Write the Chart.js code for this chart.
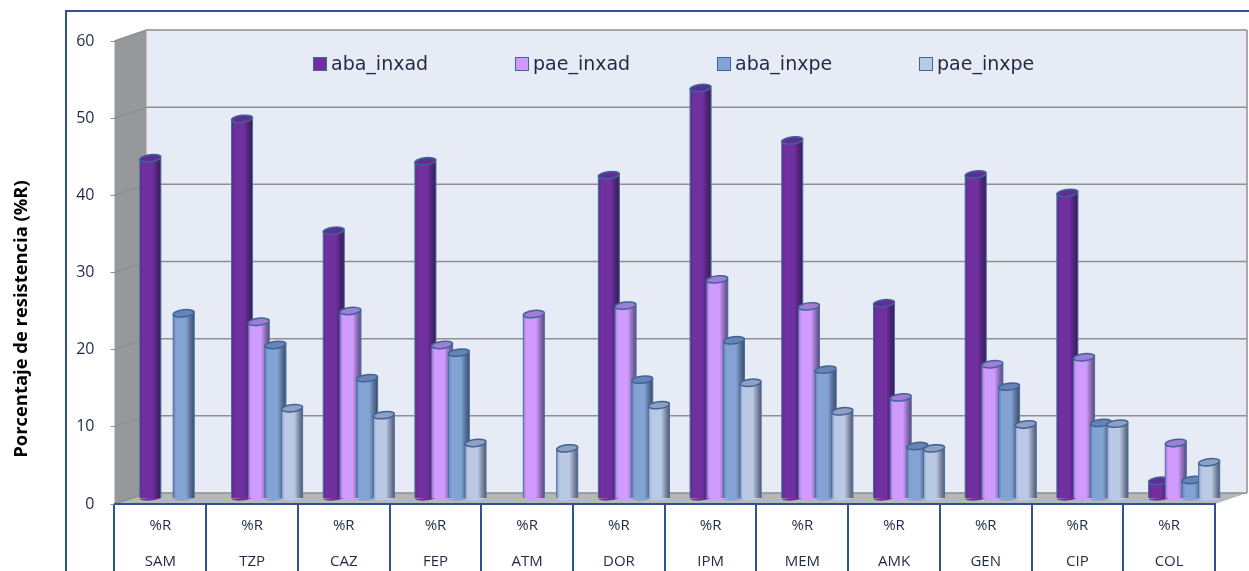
<!DOCTYPE html>
<html lang="es">
<head>
<meta charset="utf-8">
<title>Porcentaje de resistencia</title>
<script src="https://cdn.jsdelivr.net/npm/chart.js@4/dist/chart.umd.min.js"></script>
<style>
    html, body { margin: 0; padding: 0; background: #fff; overflow: hidden; }
    canvas { display: block; }
</style>
</head>
<body>
<canvas id="resistencia" width="1249" height="571"></canvas>
<script>
// datos de resistencia por antibiotico
const antibioticos = ["SAM", "TZP", "CAZ", "FEP", "ATM", "DOR", "IPM", "MEM", "AMK", "GEN", "CIP", "COL"];
const abaInxad = [44.1, 49.2, 34.7, 43.7, null, 41.9, 53.2, 46.4, 25.3, 42.0, 39.6, 2.3];
const paeInxad = [null, 22.9, 24.3, 19.9, 23.9, 25.0, 28.4, 24.9, 13.1, 17.4, 18.3, 7.2];
const abaInxpe = [24.0, 19.9, 15.6, 18.9, null, 15.4, 20.5, 16.7, 6.8, 14.5, 9.8, 2.4];
const paeInxpe = [null, 11.7, 10.8, 7.2, 6.5, 12.1, 15.0, 11.3, 6.5, 9.6, 9.7, 4.7];

const nombres = ["aba_inxad", "pae_inxad", "aba_inxpe", "pae_inxpe"];
const series = [abaInxad, paeInxad, abaInxpe, paeInxpe];
const colores = ["#7030a0", "#cf9bff", "#82a3d4", "#bacae6"];
const legendaX = [313, 515, 717, 919];

const azul = "#2f5191";
const fondo = "Open Sans";
// desplazamiento de la pared del fondo y de las barras
const profX = 32, profY = 11;
const barraX = 15, barraY = 5.5;

// caja exterior, paredes, piso y lineas de la grilla
function dibujarFondo(chart) {
    let ctx = chart.ctx;
    let a = chart.chartArea;
    let y = chart.scales.y;

    ctx.save();
    ctx.strokeStyle = azul;
    ctx.lineWidth = 2;
    ctx.beginPath();
    ctx.moveTo(66, 571);
    ctx.lineTo(66, 11);
    ctx.lineTo(1249, 11);
    ctx.stroke();

    ctx.fillStyle = "#e7ebf5";
    ctx.fillRect(a.left + profX, a.top - profY, a.width, a.height);

    ctx.fillStyle = "#97989b";
    ctx.beginPath();
    ctx.moveTo(a.left, a.top);
    ctx.lineTo(a.left + profX, a.top - profY);
    ctx.lineTo(a.left + profX, a.bottom - profY);
    ctx.lineTo(a.left, a.bottom);
    ctx.closePath();
    ctx.fill();

    ctx.fillStyle = "#b5b7b9";
    ctx.beginPath();
    ctx.moveTo(a.left, a.bottom);
    ctx.lineTo(a.left + profX, a.bottom - profY);
    ctx.lineTo(a.right + profX, a.bottom - profY);
    ctx.lineTo(a.right, a.bottom);
    ctx.closePath();
    ctx.fill();

    ctx.strokeStyle = "#8f8f8f";
    ctx.lineWidth = 1.5;
    y.ticks.forEach(function (t) {
        let py = y.getPixelForValue(t.value);
        ctx.beginPath();
        ctx.moveTo(a.left, py);
        ctx.lineTo(a.left + profX, py - profY);
        ctx.lineTo(a.right + profX, py - profY);
        ctx.stroke();
    });
    ctx.beginPath();
    ctx.moveTo(a.right + profX, a.top - profY);
    ctx.lineTo(a.right + profX, a.bottom - profY);
    ctx.stroke();
    ctx.restore();
}

// la tapa y la base de cada cilindro, con su sombra lateral
function dibujarCilindros(chart, indice) {
    let ctx = chart.ctx;
    let meta = chart.getDatasetMeta(indice);
    meta.data.forEach(function (barra, i) {
        if (series[indice][i] === null) {
            return;
        }
        let izq = barra.x - barra.width / 2;
        let der = barra.x + barra.width / 2;

        ctx.fillStyle = colores[indice];
        ctx.beginPath();
        ctx.ellipse(barra.x, barra.base, barra.width / 2, 2.5, -0.08, 0, Math.PI);
        ctx.fill();

        let sombra = ctx.createLinearGradient(izq, 0, der, 0);
        sombra.addColorStop(0, "rgba(20,30,90,0.25)");
        sombra.addColorStop(0.15, "rgba(20,30,90,0)");
        sombra.addColorStop(0.6, "rgba(0,0,0,0)");
        sombra.addColorStop(1, "rgba(10,20,50,0.6)");
        ctx.fillStyle = sombra;
        ctx.fillRect(izq, barra.y, barra.width, barra.base - barra.y);

        ctx.strokeStyle = "#4a6f9f";
        ctx.lineWidth = 1;
        ctx.beginPath();
        ctx.moveTo(izq, barra.y);
        ctx.lineTo(izq, barra.base);
        ctx.moveTo(der, barra.y);
        ctx.lineTo(der, barra.base);
        ctx.stroke();

        // tapa un poco mas oscura que el cuerpo
        ctx.strokeStyle = "#3f6496";
        ctx.lineWidth = 1.5;
        ctx.beginPath();
        ctx.ellipse(barra.x, barra.y, barra.width / 2, 3.5, -0.12, 0, Math.PI * 2);
        ctx.fillStyle = colores[indice];
        ctx.fill();
        ctx.fillStyle = "rgba(40,50,110,0.28)";
        ctx.fill();
        ctx.stroke();
    });
}

// leyenda dentro de la pared y titulo vertical del eje
function dibujarTextos(chart) {
    let ctx = chart.ctx;
    ctx.save();
    ctx.textBaseline = "middle";
    ctx.textAlign = "left";
    ctx.font = "19px 'DejaVu Sans'";
    nombres.forEach(function (nombre, i) {
        ctx.fillStyle = colores[i];
        ctx.strokeStyle = "#3f6496";
        ctx.lineWidth = 1;
        ctx.fillRect(legendaX[i], 57, 14, 14);
        ctx.strokeRect(legendaX[i] + 0.5, 57.5, 13, 13);
        ctx.fillStyle = "#1f2a44";
        ctx.fillText(nombre, legendaX[i] + 18, 65.5);
    });

    ctx.translate(22, 319);
    ctx.rotate(-Math.PI / 2);
    ctx.textAlign = "center";
    ctx.font = "bold 18.4px '" + fondo + "'";
    ctx.fillStyle = "#000";
    ctx.fillText("Porcentaje de resistencia (%R)", 0, 0);
    ctx.restore();
}

const plugin3d = {
    id: "plugin3d",
    beforeDraw: dibujarFondo,
    // las series se pintan aqui abajo, la ultima queda por encima
    beforeDatasetDraw: function () {
        return false;
    },
    afterDatasetsDraw: function (chart) {
        series.forEach(function (valores, i) {
            chart.ctx.save();
            chart.ctx.translate(barraX, -barraY);
            chart.getDatasetMeta(i).controller.draw();
            dibujarCilindros(chart, i);
            chart.ctx.restore();
        });
    },
    afterDraw: dibujarTextos
};

let ctx = document.getElementById("resistencia").getContext("2d");
let grafico = new Chart(ctx, {
    type: "bar",
    data: {
        labels: antibioticos.map(a => ["%R", a]),
        datasets: series.map((valores, i) => ({
            label: nombres[i],
            data: valores,
            backgroundColor: colores[i],
            borderWidth: 0,
            categoryPercentage: 0.728,
            barPercentage: 1.26
        }))
    },
    plugins: [plugin3d],
    options: {
        responsive: false,
        animation: false,
        layout: { padding: { top: 41, right: 34, left: 0, bottom: 0 } },
        plugins: {
            legend: { display: false },
            tooltip: { enabled: false }
        },
        scales: {
            x: {
                afterFit: function (scale) { scale.height = 67; },
                border: { color: azul, width: 2 },
                grid: { drawOnChartArea: false, color: azul, lineWidth: 2, tickLength: 67 },
                ticks: {
                    padding: -63,
                    color: "#1f2a44",
                    autoSkip: false,
                    maxRotation: 0,
                    font: { family: fondo, size: 15, lineHeight: 2.4 }
                }
            },
            y: {
                min: 0,
                max: 60,
                afterFit: function (scale) { scale.width = 114.5; },
                border: { display: false },
                grid: { drawOnChartArea: false, color: "#8f8f8f", tickLength: 4 },
                ticks: {
                    stepSize: 10,
                    padding: 16,
                    color: "#1f2a44",
                    font: { family: fondo, size: 16 }
                }
            }
        }
    }
});
</script>
</body>
</html>
